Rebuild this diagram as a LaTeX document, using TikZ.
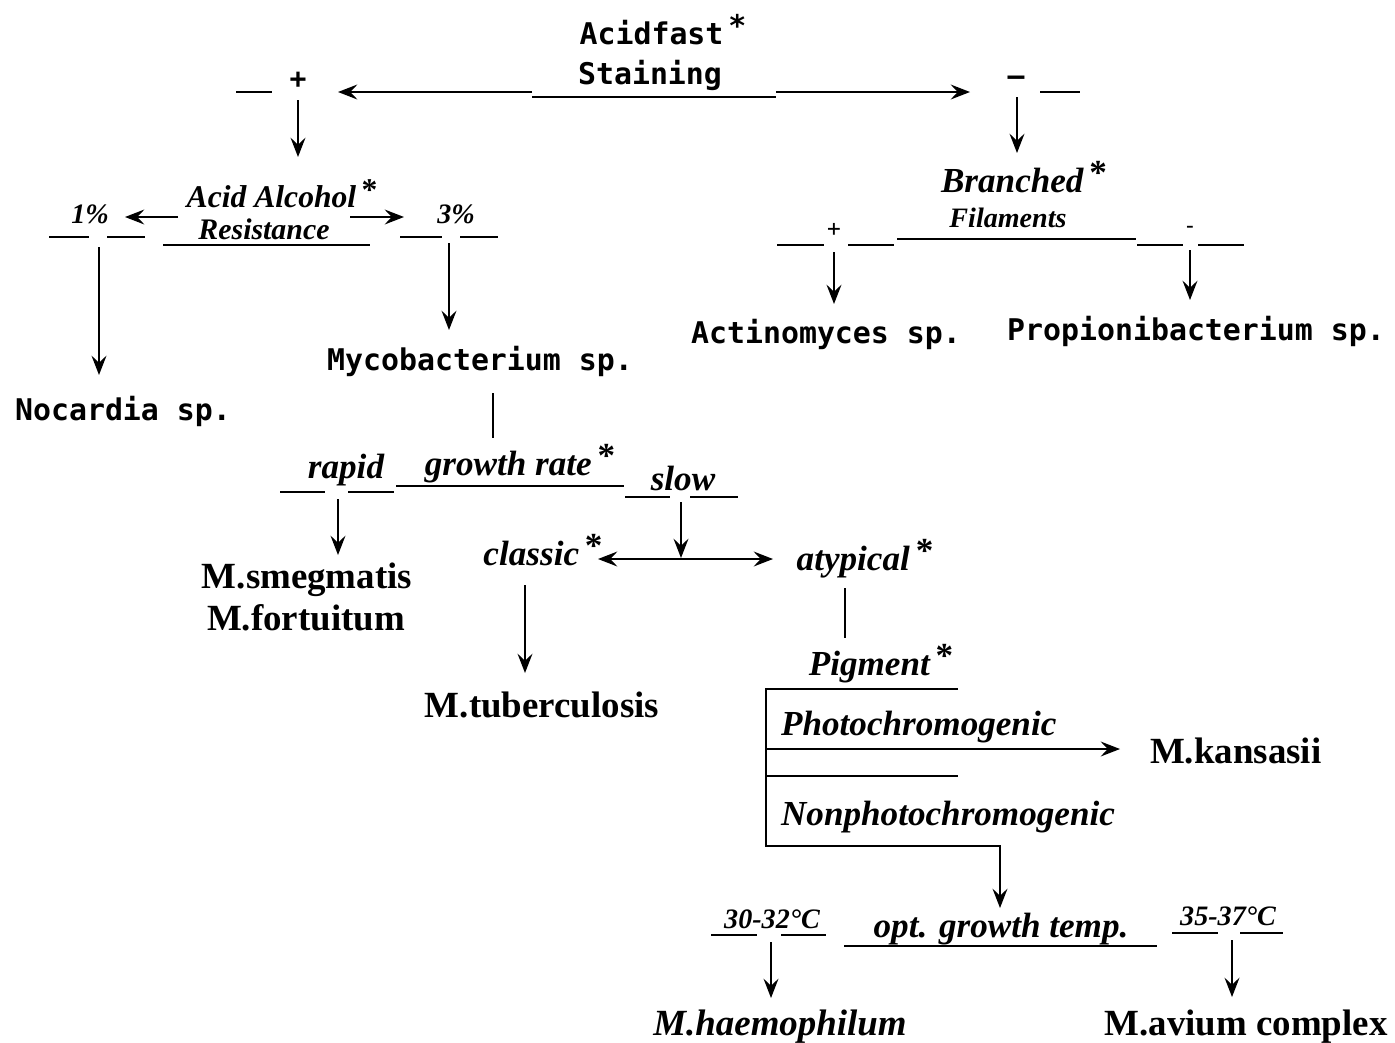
\documentclass[tikz,border=0pt]{standalone}
\usepackage{fontspec}
\setmainfont{Liberation Serif}
\newfontfamily\monofont{DejaVu Sans Mono}
\usetikzlibrary{arrows.meta}
\newcommand\keystar{\,\raisebox{.45ex}{\upshape*}}

\begin{document}
\begin{tikzpicture}[x=0.02cm,y=-0.02cm,
    genus/.style={font=\monofont\bfseries\fontsize{17}{20}\selectfont,anchor=base,inner sep=1pt},
    species/.style={font=\bfseries\fontsize{21}{24}\selectfont,anchor=base,inner sep=1pt},
    test/.style={font=\bfseries\itshape\fontsize{20}{22}\selectfont,anchor=base,inner sep=1pt},
    small/.style={font=\bfseries\itshape\fontsize{16}{18}\selectfont,anchor=base,inner sep=1pt},
    sign/.style={font=\monofont\bfseries\fontsize{16}{18}\selectfont,inner sep=1pt},
    arc/.style={draw,line width=1.1pt,-{Stealth[length=11pt,width=8.5pt,inset=4pt]}},
    bar/.style={draw,line width=1.2pt}]
    \useasboundingbox (0,0) rectangle (1395,1042);

    % first test
    \node[genus] (acid) at (663,44) {Acidfast\keystar};
    \node[genus] (stain) at (650,84) {Staining};
    \node[sign] (pos) at (298,80) {+};
    \node[sign] (neg) at (1016,81) {–};

    % acid fast side
    \node[test,font=\bfseries\itshape\fontsize{18}{20}\selectfont] (alcohol) at (282,207) {Acid Alcohol\keystar};
    \node[test,font=\bfseries\itshape\fontsize{17}{19}\selectfont] (resist) at (264,239) {Resistance};
    \node[small] (one) at (90,223) {1\%};
    \node[small] (three) at (456,223) {3\%};
    \node[genus] (nocardia) at (123,420) {Nocardia sp.};
    \node[genus] (myco) at (480,370) {Mycobacterium sp.};

    % non acid fast side
    \node[test] (branch) at (1024,192) {Branched\keystar};
    \node[small] (fil) at (1008,227) {Filaments};
    \node[sign,font=\monofont\fontsize{13}{15}\selectfont] (bpos) at (834,230) {+};
    \node[sign,font=\monofont\fontsize{13}{15}\selectfont] (bneg) at (1190,230) {-};
    \node[genus] (actino) at (826,343) {Actinomyces sp.};
    \node[genus] (propi) at (1196,340) {Propionibacterium sp.};

    % growth rate
    \node[test] (rapid) at (346,478) {rapid};
    \node[test] (growth) at (520,475) {growth rate\keystar};
    \node[test] (slow) at (683,490) {slow};
    \node[species] (smeg) at (307,588) {M.smegmatis};
    \node[species] (fortu) at (306,630) {M.fortuitum};
    \node[test] (classic) at (543,565) {classic\keystar};
    \node[test] (atyp) at (865,570) {atypical\keystar};
    \node[species] (tuber) at (542,717) {M.tuberculosis};

    % pigment
    \node[test] (pigment) at (881,675) {Pigment\keystar};
    \node[test,anchor=base west] (photo) at (779,735) {Photochromogenic};
    \node[test,anchor=base west] (nonphoto) at (779,825) {Nonphotochromogenic};
    \node[species,anchor=base west] (kansasii) at (1148,763) {M.kansasii};

    % temperature
    \node[small] (low) at (772,928) {30-32°C};
    \node[test] (opt) at (1001,937) {opt. growth temp.};
    \node[small] (high) at (1228,925) {35-37°C};
    \node[species,font=\bfseries\itshape\fontsize{21}{24}\selectfont] (haemo) at (780,1035) {M.haemophilum};
    \node[species] (avium) at (1246,1035) {M.avium complex};

    % underlines and dashes
    \foreach \xa/\xb/\yy in {236/272/92,1040/1080/92,532/776/97,
        777/824/245,848/894/245,897/1136/239,1137/1183/245,1198/1244/245,
        49/89/237,107/145/237,163/370/245,400/442/237,460/498/237,
        280/325/492,348/394/492,396/624/486,625/670/497,690/738/497,
        711/757/935,781/826/935,844/1157/946,1172/1218/933,1240/1283/933}{
        \draw[bar] (\xa,\yy) -- (\xb,\yy);
    }

    % connector ends
    \coordinate (sl) at (532,92);    \coordinate (slt) at (338,92);
    \coordinate (sr) at (776,92);    \coordinate (srt) at (970,92);
    \coordinate (p0) at (298,100);   \coordinate (p1) at (298,157);
    \coordinate (n0) at (1017,97);   \coordinate (n1) at (1017,153);
    \coordinate (al) at (178,217);   \coordinate (alt) at (125,217);
    \coordinate (ar) at (350,217);   \coordinate (art) at (404,217);
    \coordinate (o0) at (99,247);    \coordinate (o1) at (99,375);
    \coordinate (t0) at (449,243);   \coordinate (t1) at (449,330);
    \coordinate (bp0) at (834,252);  \coordinate (bp1) at (834,304);
    \coordinate (bn0) at (1190,250); \coordinate (bn1) at (1190,300);
    \coordinate (m0) at (493,393);   \coordinate (m1) at (493,438);
    \coordinate (r0) at (338,499);   \coordinate (r1) at (338,555);
    \coordinate (w0) at (681,502);   \coordinate (w1) at (681,558);
    \coordinate (cl) at (598,559);   \coordinate (cr) at (773,559);
    \coordinate (c0) at (525,585);   \coordinate (c1) at (525,673);
    \coordinate (a0) at (845,588);   \coordinate (a1) at (845,638);
    \coordinate (g1) at (958,689);   \coordinate (g2) at (766,689);
    \coordinate (g3) at (766,846);   \coordinate (g4) at (1000,846);
    \coordinate (g5) at (1000,908);
    \coordinate (k0) at (766,749);   \coordinate (k1) at (1120,749);
    \coordinate (h0) at (766,776);   \coordinate (h1) at (958,776);
    \coordinate (l0) at (771,942);   \coordinate (l1) at (771,998);
    \coordinate (v0) at (1232,940);  \coordinate (v1) at (1232,997);

    % connectors
    \draw[arc] (sl) -- (slt);
    \draw[arc] (sr) -- (srt);
    \draw[arc] (p0) -- (p1);
    \draw[arc] (n0) -- (n1);
    \draw[arc] (al) -- (alt);
    \draw[arc] (ar) -- (art);
    \draw[arc] (o0) -- (o1);
    \draw[arc] (t0) -- (t1);
    \draw[arc] (bp0) -- (bp1);
    \draw[arc] (bn0) -- (bn1);
    \draw[bar,line width=1.1pt] (m0) -- (m1);
    \draw[arc] (r0) -- (r1);
    \draw[arc] (w0) -- (w1);
    \draw[arc,{Stealth[length=11pt,width=8.5pt,inset=4pt]}-{Stealth[length=11pt,width=8.5pt,inset=4pt]}] (cl) -- (cr);
    \draw[arc] (c0) -- (c1);
    \draw[bar,line width=1.1pt] (a0) -- (a1);
    \draw[arc] (g1) -- (g2) -- (g3) -- (g4) -- (g5);
    \draw[arc] (k0) -- (k1);
    \draw[bar] (h0) -- (h1);
    \draw[arc] (l0) -- (l1);
    \draw[arc] (v0) -- (v1);
\end{tikzpicture}
\end{document}
